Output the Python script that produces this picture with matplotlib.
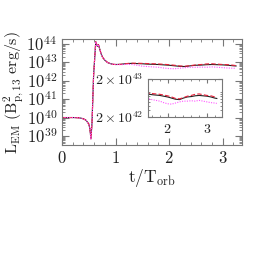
import numpy as np
import matplotlib
matplotlib.use("Agg")
import matplotlib.pyplot as plt
from matplotlib.ticker import FuncFormatter, LogLocator, MultipleLocator, NullFormatter

plt.rcParams['mathtext.fontset'] = 'cm'
plt.rcParams['font.family'] = 'DejaVu Serif'

# time in orbital periods
t = [0.0, 0.1, 0.2, 0.3, 0.35, 0.4, 0.45, 0.5, 0.52, 0.54, 0.56, 0.59, 0.63, 0.66, 0.68,
     0.7, 0.73, 0.76, 0.8, 0.85, 0.9, 0.95, 1.0, 1.1, 1.2, 1.3, 1.4, 1.5, 1.6, 1.7,
     1.8, 1.9, 2.0, 2.1, 2.2, 2.3, 2.4, 2.5, 2.6, 2.7, 2.8, 2.9, 3.0, 3.1, 3.2, 3.25]

# log10 of L_EM for the three runs
early = [40.0, 40.0, 40.0, 39.99, 39.97, 39.93, 39.85, 39.65, 39.4, 38.85, 39.7, 42.3, 44.1, 43.85, 43.95,
         43.75, 43.45, 43.25, 43.1, 42.98, 42.92, 42.88, 42.87]
logL_black = early + [42.88, 42.92, 42.93, 42.92, 42.91, 42.89, 42.88,
                      42.87, 42.85, 42.83, 42.80, 42.77, 42.76, 42.80, 42.83, 42.84, 42.86, 42.87, 42.86, 42.85, 42.83, 42.80, 42.79]
logL_red = early + [42.88, 42.92, 42.94, 42.94, 42.93, 42.92, 42.91,
                    42.90, 42.88, 42.86, 42.83, 42.79, 42.78, 42.81, 42.85, 42.87, 42.90, 42.91, 42.89, 42.87, 42.86, 42.83, 42.81]
logL_mag = early + [42.86, 42.88, 42.87, 42.83, 42.78, 42.76, 42.74,
                    42.72, 42.68, 42.65, 42.64, 42.67, 42.70, 42.72, 42.72, 42.73, 42.72, 42.74, 42.72, 42.70, 42.68, 42.67, 42.66]

L_black = 10.0 ** np.array(logL_black)
L_red = 10.0 ** np.array(logL_red)
L_mag = 10.0 ** np.array(logL_mag)

tc = '#777777'

def style(ax, fs):
    ax.tick_params(which='both', direction='in', top=True, right=True, colors=tc, labelcolor='#222222', labelsize=fs)
    ax.tick_params(which='major', length=5, width=0.8)
    ax.tick_params(which='minor', length=2.5, width=0.6)
    for s in ax.spines.values():
        s.set_color(tc)
        s.set_linewidth(0.8)

def draw(ax):
    ax.plot(t, L_black, color='#222222', lw=0.8)
    ax.plot(t, L_red, color='#e8203a', lw=0.8, ls=(0, (4, 2)))
    ax.plot(t, L_mag, color='#ff55ff', lw=0.8, ls=(0, (1, 1.2)))

fig = plt.figure(figsize=(2.69, 2.69), dpi=100)
ax = fig.add_axes([0.2305, 0.46, 0.669, 0.395])
draw(ax)
ax.set_yscale('log')
ax.set_xlim(0, 3.36)
ax.set_ylim(10 ** 38.5, 10 ** 44.25)
ax.xaxis.set_major_locator(MultipleLocator(1))
ax.xaxis.set_minor_locator(MultipleLocator(0.2))
ax.xaxis.set_major_formatter(FuncFormatter(lambda v, p: r'$%d$' % round(v)))
ax.yaxis.set_major_locator(LogLocator(base=10, numticks=20))
ax.yaxis.set_minor_locator(LogLocator(base=10, subs=np.arange(2, 10), numticks=20))
ax.yaxis.set_minor_formatter(NullFormatter())
ax.yaxis.set_major_formatter(FuncFormatter(lambda v, p: r'$10^{%d}$' % round(np.log10(v))))
style(ax, 12)
ax.set_xlabel(r'$\rm t/T_{orb}$', fontsize=12.5, color='#222222', labelpad=0)
ax.set_ylabel(r'$\rm L_{EM}\ (B^2_{p,13}\ erg/s)$', fontsize=11.5, color='#222222', labelpad=0)

ins = fig.add_axes([0.550, 0.565, 0.275, 0.141])
draw(ins)
ins.set_yscale('log')
ins.set_xlim(1.5, 3.38)
ins.set_ylim(2e42, 2e43)
ins.xaxis.set_major_locator(MultipleLocator(1))
ins.xaxis.set_minor_locator(MultipleLocator(0.2))
ins.xaxis.set_major_formatter(FuncFormatter(lambda v, p: r'$%d$' % round(v)))
ins.set_yticks([2e42, 2e43])
ins.set_yticklabels([r'$2\times10^{42}$', r'$2\times10^{43}$'])
ins.yaxis.set_minor_locator(LogLocator(base=10, subs=np.arange(2, 10), numticks=20))
ins.yaxis.set_minor_formatter(NullFormatter())
style(ins, 10)
ins.tick_params(which='major', length=3)
ins.tick_params(which='minor', length=1.5)

fig.savefig('out.png', dpi=100)
